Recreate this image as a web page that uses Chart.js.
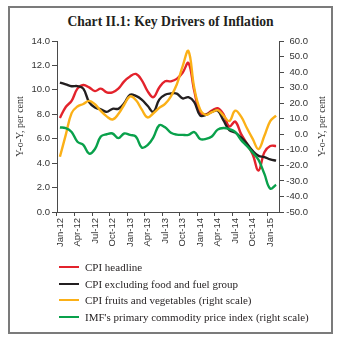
<!DOCTYPE html>
<html>
<head>
<meta charset="utf-8">
<script src="https://cdn.jsdelivr.net/npm/chart.js@4.4.1/dist/chart.umd.min.js"></script>
<style>
  html, body { margin: 0; padding: 0; background: #fff; }
  body { width: 343px; height: 341px; position: relative; overflow: hidden; }
  #frame { position: absolute; left: 8px; top: 6px; width: 321px; height: 324px; border: 2px solid #7b7b7b; }
  #title { position: absolute; left: 8px; width: 325px; top: 14px; text-align: center;
           font: bold 13.6px "Liberation Serif", serif; color: #231f20; line-height: 15px; }
  #chart { position: absolute; left: 0; top: 0; }
  #legend { position: absolute; left: 59px; top: 259px; font: 11px "Liberation Serif", serif; color: #231f20; }
  .row { height: 16.5px; display: flex; align-items: center; white-space: nowrap; }
  .swatch { width: 20px; height: 2px; margin-right: 6px; }
</style>
</head>
<body>
<div id="frame"></div>
<div id="title">Chart II.1: Key Drivers of Inflation</div>
<canvas id="chart" width="343" height="341"></canvas>
<div id="legend"></div>
<script>
const months = [
  'Jan-12', 'Feb-12', 'Mar-12', 'Apr-12', 'May-12', 'Jun-12', 'Jul-12', 'Aug-12', 'Sep-12', 'Oct-12', 'Nov-12', 'Dec-12',
  'Jan-13', 'Feb-13', 'Mar-13', 'Apr-13', 'May-13', 'Jun-13', 'Jul-13', 'Aug-13', 'Sep-13', 'Oct-13', 'Nov-13', 'Dec-13',
  'Jan-14', 'Feb-14', 'Mar-14', 'Apr-14', 'May-14', 'Jun-14', 'Jul-14', 'Aug-14', 'Sep-14', 'Oct-14', 'Nov-14', 'Dec-14',
  'Jan-15', 'Feb-15'
];

// left scale, per cent
const cpiHeadline = [
  7.7, 8.6, 9.1, 10.1, 10.4, 10.2, 9.9, 10.1, 9.8, 9.8, 10.1, 10.7,
  11.1, 11.3, 10.8, 9.9, 9.4, 10.2, 10.7, 10.7, 10.9, 11.4, 12.2, 9.9,
  8.2, 8.0, 8.3, 8.5, 8.0, 7.0, 7.4, 6.4, 5.6, 4.7, 3.4, 4.9,
  5.4, 5.4
];
const cpiCore = [
  10.6, 10.45, 10.3, 10.3, 10.1, 9.0, 8.55, 8.4, 8.2, 8.45, 8.45, 8.9,
  9.6, 9.5, 9.2, 8.7, 8.2, 9.2, 9.6, 9.7, 9.7, 9.3, 9.4, 9.0,
  7.9, 7.95, 8.2, 8.3, 7.5, 6.7, 6.5, 6.1, 5.6, 5.0, 4.6, 4.5,
  4.3, 4.2
];

// right scale, per cent
const fruitsVeg = [
  -14.5, -0.4, 13.6, 17.9, 19.5, 21.5, 19.3, 15.0, 11.5, 9.5, 13.0, 19.0,
  24.4, 22.0, 16.0, 10.8, 13.5, 17.0, 19.5, 24.4, 32.0, 43.7, 53.5, 29.7,
  16.0, 12.5, 14.2, 15.5, 12.0, 8.5, 15.2, 11.5, 4.0, -3.0, -9.5, -1.0,
  8.5, 12.0
];
const imfCommodity = [
  4.4, 4.0, 1.5, -4.8, -6.8, -12.5, -9.5, -1.5, 0.0, 0.5, -2.5, 0.5,
  -0.4, -1.5, -8.5, -7.0, -2.0, 5.8, 4.5, 1.0, -0.2, -0.4, -0.4, 1.4,
  -3.0, -3.0, -1.4, 3.0, 4.0, 3.3, 1.5, -3.6, -7.5, -11.8, -16.5, -25.5,
  -35.0, -32.5
];

const seriesNames = [
  'CPI headline',
  'CPI excluding food and fuel group',
  'CPI fruits and vegetables (right scale)',
  "IMF's primary commodity price index (right scale)"
];
const axisTitle = 'Y-o-Y, per cent';

const axisColor = '#4a4a4a';
const tickColor = '#333';
const tickFont = { family: '"Liberation Sans", Arial, sans-serif', size: 9.5 };

function line(label, data, color, axis, order) {
  return {
    label, data, yAxisID: axis, order,
    borderColor: color, backgroundColor: color,
    borderWidth: 2.4, pointRadius: 0, tension: 0.4, fill: false
  };
}

// rotated captions on both value axes, reading bottom to top
const axisCaptions = {
  id: 'axisCaptions',
  afterDraw(chart) {
    const { ctx, chartArea } = chart;
    const mid = (chartArea.top + chartArea.bottom) / 2;
    ctx.save();
    ctx.font = '10px "Liberation Serif", serif';
    ctx.fillStyle = tickColor;
    ctx.textAlign = 'center';
    ctx.textBaseline = 'middle';
    [20.5, 322].forEach(x => {
      ctx.save();
      ctx.translate(x, mid);
      ctx.rotate(-Math.PI / 2);
      ctx.fillText(axisTitle, 0, 0);
      ctx.restore();
    });
    ctx.restore();
  }
};

const chart = new Chart(document.getElementById('chart'), {
  type: 'line',
  data: {
    labels: months,
    datasets: [
      line(seriesNames[0], cpiHeadline, '#e3232c', 'y', 3),
      line(seriesNames[1], cpiCore, '#231f20', 'y', 2),
      line(seriesNames[2], fruitsVeg, '#fbb017', 'y1', 1),
      line(seriesNames[3], imfCommodity, '#09a14b', 'y1', 0)
    ]
  },
  options: {
    responsive: false,
    animation: false,
    devicePixelRatio: 1,
    // right padding leaves room for the right-aligned labels of y1
    layout: { padding: { top: 41, bottom: 83, left: 0, right: 35 } },
    plugins: { legend: { display: false }, tooltip: { enabled: false } },
    scales: {
      x: {
        offset: true,
        grid: {
          offset: true, drawOnChartArea: false, tickLength: 4,
          color: c => c.index % 3 === 0 ? axisColor : 'rgba(0,0,0,0)'
        },
        border: { color: axisColor, width: 1 },
        ticks: {
          autoSkip: false, minRotation: 90, maxRotation: 90, padding: 2,
          font: tickFont, color: tickColor,
          callback: function (v, i) { return i % 3 === 0 ? this.getLabelForValue(v) : ''; }
        },
        afterFit: s => { s.height = 46; }
      },
      y: {
        position: 'left', min: 0, max: 14,
        grid: { drawOnChartArea: false, tickLength: 5, color: axisColor },
        border: { color: axisColor, width: 1 },
        ticks: { stepSize: 2, padding: 2, font: tickFont, color: tickColor, callback: v => v.toFixed(1) },
        afterFit: s => { s.width = 57; }
      },
      y1: {
        position: 'right', min: -50, max: 60,
        grid: { drawOnChartArea: false, tickLength: 5, color: axisColor },
        border: { color: axisColor, width: 1 },
        ticks: { stepSize: 10, padding: 1, crossAlign: 'far', font: tickFont, color: tickColor, callback: v => v.toFixed(1) },
        afterFit: s => { s.width = 29; }
      }
    }
  },
  plugins: [axisCaptions]
});

// one legend entry per row, taken from the datasets
const legend = document.getElementById('legend');
chart.data.datasets.forEach(ds => {
  const row = document.createElement('div');
  row.className = 'row';
  const sw = document.createElement('span');
  sw.className = 'swatch';
  sw.style.background = ds.borderColor;
  const txt = document.createElement('span');
  txt.textContent = ds.label;
  row.appendChild(sw);
  row.appendChild(txt);
  legend.appendChild(row);
});
</script>
</body>
</html>
